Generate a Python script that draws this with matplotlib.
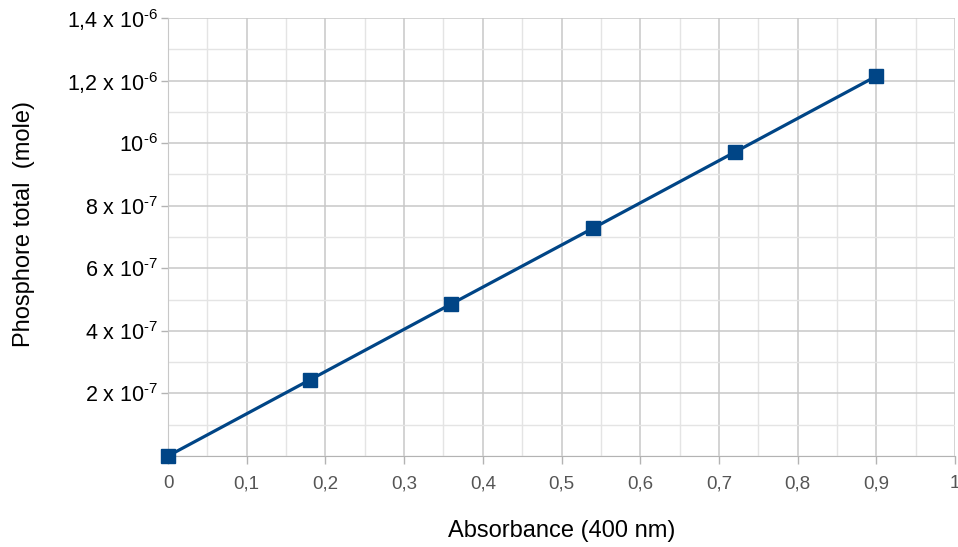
import matplotlib
matplotlib.use("Agg")
from matplotlib import pyplot as plt
from matplotlib.ticker import MultipleLocator, FixedLocator

absorbance = [0, 0.18, 0.36, 0.54, 0.72, 0.9]
phosphore = [0, 2.43e-7, 4.86e-7, 7.28e-7, 9.71e-7, 1.214e-6]

x_ticks = [0, 0.1, 0.2, 0.3, 0.4, 0.5, 0.6, 0.7, 0.8, 0.9, 1]
x_tick_labels = ["0", "0,1", "0,2", "0,3", "0,4", "0,5", "0,6", "0,7", "0,8", "0,9", "1"]
y_ticks = [2e-7, 4e-7, 6e-7, 8e-7, 1e-6, 1.2e-6, 1.4e-6]
y_tick_labels = [r"2 x 10$^{\text{-7}}$", r"4 x 10$^{\text{-7}}$",
                 r"6 x 10$^{\text{-7}}$", r"8 x 10$^{\text{-7}}$",
                 r"10$^{\text{-6}}$", r"1,2 x 10$^{\text{-6}}$",
                 r"1,4 x 10$^{\text{-6}}$"]

plt.rcParams['font.family'] = ['Liberation Sans', 'DejaVu Sans']
plt.rcParams['mathtext.fontset'] = 'custom'
plt.rcParams['mathtext.rm'] = 'Liberation Sans'

fig = plt.figure(figsize=(9.58, 5.47), dpi=100)
ax = fig.add_axes([0.1754, 0.1664, 0.8215, 0.8007])

ax.plot(absorbance, phosphore, color="#004586", linewidth=2.3,
        marker="s", markersize=9.5, zorder=3, clip_on=False)

ax.set_xlim(0, 1)
ax.set_ylim(0, 1.4e-6)
ax.xaxis.set_major_locator(FixedLocator(x_ticks))
ax.set_xticklabels(x_tick_labels)
ax.xaxis.set_minor_locator(MultipleLocator(0.05))
ax.yaxis.set_major_locator(FixedLocator(y_ticks))
ax.set_yticklabels(y_tick_labels)
ax.yaxis.set_minor_locator(MultipleLocator(1e-7))

ax.grid(which="major", color="#c8c8c8", linewidth=1.1)
ax.grid(which="minor", color="#e4e4e4", linewidth=1.0)
ax.set_axisbelow(True)

ax.tick_params(axis="x", which="major", direction="out", length=6, width=1,
               color="#b3b3b3", labelsize=13.5, labelcolor="#555555", pad=8)
ax.tick_params(axis="y", which="major", direction="out", length=5, width=1,
               color="#b3b3b3", labelsize=15.5, labelcolor="#000000", pad=2)
ax.tick_params(which="minor", length=0)

for side in ["top", "right"]:
    ax.spines[side].set_visible(False)
ax.spines["left"].set_color("#c8c8c8")
ax.spines["bottom"].set_color("#b3b3b3")

ax.set_xlabel("Absorbance (400 nm)", fontsize=17, labelpad=20)
ax.set_ylabel("Phosphore total  (mole)", fontsize=17, labelpad=14)
ax.yaxis.set_label_coords(-0.169, 0.53)

fig.savefig("out.png", dpi=100)
